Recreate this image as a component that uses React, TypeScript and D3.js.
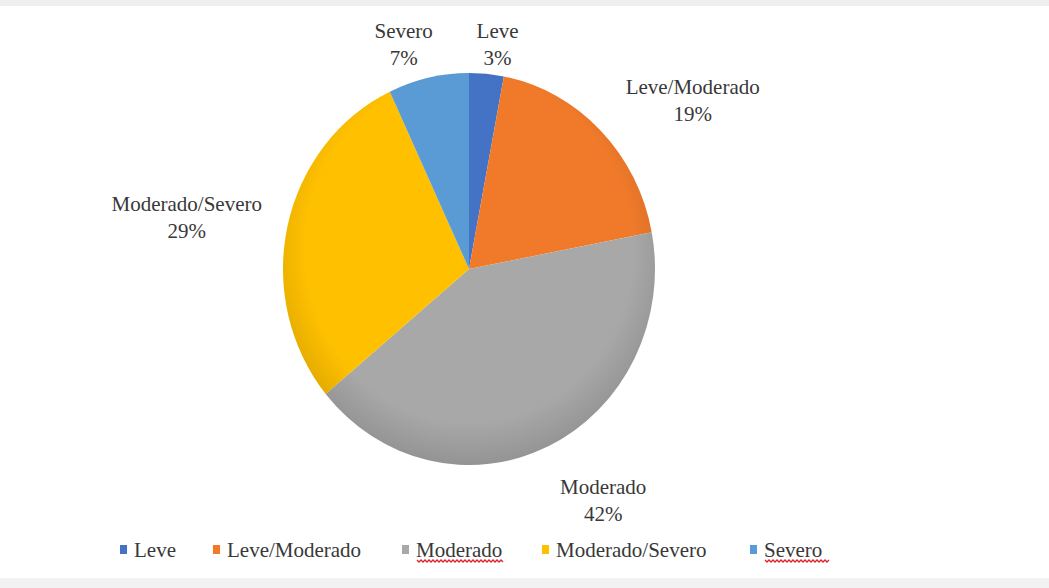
import React from "react";
import * as d3 from "d3";

const categories = ["Leve", "Leve/Moderado", "Moderado", "Moderado/Severo", "Severo"];
const values = [3, 19, 42, 29, 7];
const percentLabels = ["3%", "19%", "42%", "29%", "7%"];
const colors = ["#4472C4", "#F07A2A", "#A8A8A8", "#FFC000", "#5B9BD5"];
// layout nudges for the data labels (px), relative to their radial anchor
const labelNudge: [number, number][] = [
  [6, 11],
  [54, -3],
  [32, 5],
  [-48, -5],
  [-13, 6],
];
const spellUnderlined = ["Moderado", "Severo"];

const W = 1049;
const H = 588;
const cx = 469;
const cy = 269;
const rx = 186;
const ry = 196;
const FONT = "'Liberation Serif', 'Noto Serif', 'DejaVu Serif', serif";

export default function App() {
  const pie = d3.pie<number>().sort(null).value((d) => d)(values);
  const arc = d3.arc<d3.PieArcDatum<number>>().innerRadius(0).outerRadius(rx);
  const labelR = 240;

  const legendX = d3
    .scaleOrdinal<string, number>()
    .domain(categories)
    .range([120, 213, 402, 542, 750]);
  const legendY = 557;

  const wave = (x0: number, x1: number, y: number) => {
    const pts: [number, number][] = [];
    for (let x = x0, i = 0; x <= x1; x += 2, i++) pts.push([x, y + (i % 2 ? 2 : 0)]);
    return d3.line()(pts) || "";
  };

  const textStyle = { fontFamily: FONT } as React.CSSProperties;

  return (
    <svg
      width={W}
      height={H}
      style={{ position: "absolute", left: 0, top: 0, background: "#fff" }}
    >
      <rect x={0} y={0} width={W} height={6} fill="#efefef" />
      <rect x={0} y={578} width={W} height={10} fill="#f2f2f2" />
      <defs>
        <radialGradient id="shade" cx="50%" cy="45%" r="55%">
          <stop offset="80%" stopColor="#000" stopOpacity={0} />
          <stop offset="100%" stopColor="#000" stopOpacity={0.12} />
        </radialGradient>
      </defs>
      <g transform={`translate(${cx},${cy}) scale(1,${ry / rx})`}>
        {pie.map((p, i) => (
          <path key={categories[i]} d={arc(p) || ""} fill={colors[i]} />
        ))}
        <circle r={rx} fill="url(#shade)" />
      </g>
      {pie.map((p, i) => {
        const a = (p.startAngle + p.endAngle) / 2;
        const x = cx + Math.sin(a) * labelR + labelNudge[i][0];
        const y = cy - Math.cos(a) * labelR * (ry / rx) * 0.96 + labelNudge[i][1];
        return (
          <text key={categories[i]} x={x} y={y} textAnchor="middle" fontSize={21} fill="#383838" style={textStyle}>
            <tspan x={x}>{categories[i]}</tspan>
            <tspan x={x} dy={27}>{percentLabels[i]}</tspan>
          </text>
        );
      })}
      {categories.map((c, i) => {
        const x = legendX(c);
        const tw = c.length;
        return (
          <g key={c}>
            <rect x={x} y={legendY - 12} width={7} height={9} fill={colors[i]} />
            <text x={x + 14} y={legendY} fontSize={21} fill="#383838" style={textStyle}>
              {c}
            </text>
            {spellUnderlined.includes(c) && (
              <path
                d={wave(x + 15, x + 15 + tw * 10.8, legendY + 3)}
                fill="none"
                stroke="#e0202a"
                strokeWidth={1.3}
              />
            )}
          </g>
        );
      })}
    </svg>
  );
}
